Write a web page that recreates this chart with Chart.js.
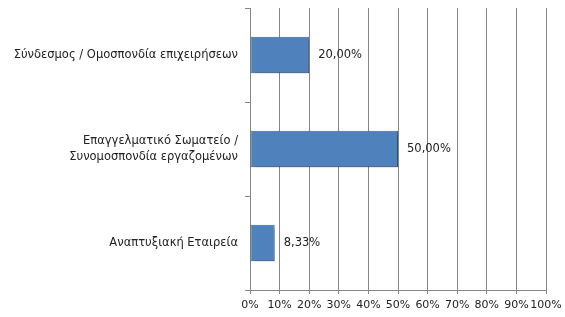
<!DOCTYPE html>
<html lang="el">
<head>
    <meta charset="UTF-8">
    <title>Chart</title>
    <script src="https://cdn.jsdelivr.net/npm/chart.js@4/dist/chart.umd.min.js"></script>
    <style>
        html, body { margin: 0; padding: 0; background: #fff; }
        #wrap { width: 565px; height: 317px; }
    </style>
</head>
<body>
<div id="wrap"><canvas id="myChart" width="565" height="317"></canvas></div>
<script>
    const categories = [
        'Σύνδεσμος / Ομοσπονδία επιχειρήσεων',
        ['Επαγγελματικό Σωματείο /', 'Συνομοσπονδία εργαζομένων'],
        'Αναπτυξιακή Εταιρεία'
    ];
    const shares = [20.00, 50.00, 8.33];
    const xTicks = [0, 10, 20, 30, 40, 50, 60, 70, 80, 90, 100];

    const valueLabels = {
        id: 'valueLabels',
        afterDatasetsDraw(chart) {
            const ctx = chart.ctx;
            const meta = chart.getDatasetMeta(0);
            ctx.save();
            ctx.font = '11.5px "DejaVu Sans"';
            ctx.fillStyle = '#222';
            ctx.textBaseline = 'middle';
            meta.data.forEach((bar, i) => {
                const txt = shares[i].toFixed(2).replace('.', ',') + '%';
                ctx.fillText(txt, bar.x + 9, bar.y);
            });
            ctx.restore();
        }
    };

    const barShadow = {
        id: 'barShadow',
        beforeDatasetDraw(chart) {
            const ctx = chart.ctx;
            ctx.save();
            ctx.shadowColor = 'rgba(0,0,0,0.35)';
            ctx.shadowBlur = 3;
            ctx.shadowOffsetX = 2;
            ctx.shadowOffsetY = 2;
        },
        afterDatasetDraw(chart) {
            chart.ctx.restore();
        }
    };

    const ctx = document.getElementById('myChart').getContext('2d');
    new Chart(ctx, {
        type: 'bar',
        data: {
            labels: categories,
            datasets: [{
                data: shares,
                backgroundColor: '#4F81BD',
                borderColor: '#3A679C',
                borderWidth: 1,
                borderSkipped: false,
                categoryPercentage: 1,
                barPercentage: 0.39
            }]
        },
        options: {
            indexAxis: 'y',
            responsive: false,
            animation: false,
            layout: { padding: { top: 8, right: 19, left: 0, bottom: 0 } },
            plugins: { legend: { display: false }, tooltip: { enabled: false } },
            scales: {
                x: {
                    min: 0,
                    max: 100,
                    afterBuildTicks(axis) { axis.ticks = xTicks.map(v => ({ value: v })); },
                    afterFit(axis) {
                        axis.height = 27;
                        axis.paddingLeft = 0;
                        axis.paddingRight = 0;
                    },
                    border: { color: '#868686' },
                    grid: { color: '#868686', tickLength: 4 },
                    ticks: {
                        autoSkip: false,
                        callback: v => v + '%',
                        color: '#222',
                        padding: 5,
                        maxRotation: 0,
                        font: { family: 'DejaVu Sans', size: 11 }
                    }
                },
                y: {
                    afterFit(axis) {
                        axis.width = 250;
                        axis.paddingTop = 0;
                        axis.paddingBottom = 0;
                    },
                    border: { color: '#868686' },
                    grid: { offset: true, drawOnChartArea: false, color: '#868686', tickLength: 5 },
                    ticks: {
                        color: '#222',
                        padding: 7,
                        font: { family: 'DejaVu Sans', size: 11.5, lineHeight: 1.4 }
                    }
                }
            }
        },
        plugins: [barShadow, valueLabels]
    });
</script>
</body>
</html>
